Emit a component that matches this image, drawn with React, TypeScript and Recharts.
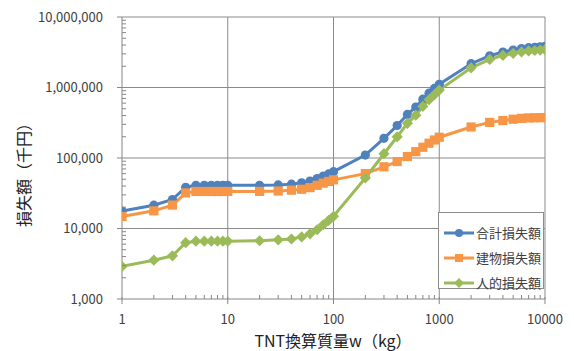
import React from 'react';
import { LineChart, Line, XAxis, YAxis, ReferenceLine } from 'recharts';

const weights = [1, 2, 3, 4, 5, 6, 7, 8, 9, 10, 20, 30, 40, 50, 60, 70, 80, 90, 100, 200, 300, 400, 500, 600, 700, 800, 900, 1000, 2000, 3000, 4000, 5000, 6000, 7000, 8000, 9000, 10000];
const totalLoss = [17700, 21400, 25800, 38500, 41000, 41000, 41000, 41000, 41000, 41000, 41000, 41500, 42500, 44500, 47000, 51000, 55500, 59500, 64000, 110000, 190000, 289000, 415000, 528000, 682000, 832000, 970000, 1110000, 2175000, 2820000, 3190000, 3405000, 3565000, 3670000, 3722000, 3774000, 3825000];
const buildingLoss = [14800, 17800, 21500, 32000, 33500, 33500, 33500, 33500, 33500, 33500, 33600, 34000, 35000, 36000, 38000, 41000, 44000, 46500, 49000, 60000, 75000, 89000, 105000, 123000, 142000, 162000, 180000, 197000, 275000, 320000, 340000, 355000, 365000, 370000, 372000, 374000, 375000];
const humanLoss = [2900, 3550, 4100, 6300, 6600, 6600, 6600, 6600, 6600, 6600, 6700, 6900, 7100, 7600, 8400, 9600, 11300, 13000, 14900, 52000, 115000, 200000, 310000, 405000, 540000, 670000, 790000, 920000, 1900000, 2500000, 2850000, 3050000, 3200000, 3300000, 3350000, 3400000, 3450000];

const seriesNames = ['合計損失額', '建物損失額', '人的損失額'];
const seriesKeys = ['total', 'building', 'human'];
const seriesColors = ['#4F81BD', '#F79646', '#9BBB59'];
const seriesShapes = ['circle', 'square', 'diamond'];

const xMajorTicks = [1, 10, 100, 1000, 10000];
const yMajorTicks = [1000, 10000, 100000, 1000000, 10000000];
const xAllTicks = [1, 2, 3, 4, 5, 6, 7, 8, 9, 10, 20, 30, 40, 50, 60, 70, 80, 90, 100, 200, 300, 400, 500, 600, 700, 800, 900, 1000, 2000, 3000, 4000, 5000, 6000, 7000, 8000, 9000, 10000];
const yAllTicks = [1000, 2000, 3000, 4000, 5000, 6000, 7000, 8000, 9000, 10000, 20000, 30000, 40000, 50000, 60000, 70000, 80000, 90000, 100000, 200000, 300000, 400000, 500000, 600000, 700000, 800000, 900000, 1000000, 2000000, 3000000, 4000000, 5000000, 6000000, 7000000, 8000000, 9000000, 10000000];

const xTitle = 'TNT換算質量w（kg）';
const yTitle = '損失額（千円）';

const data = weights.map((w, i) => ({ w, total: totalLoss[i], building: buildingLoss[i], human: humanLoss[i] }));

const FONT = '"Noto Sans CJK JP", "Noto Sans", sans-serif';
const AXIS = '#868686';
const GRID = '#8a8a8a';
const TEXT = '#404040';

const isMajor = (v: number, majors: number[]) => majors.indexOf(v) >= 0;

const XTick = (props: any) => {
  const { x, y, payload } = props;
  const v = payload.value;
  if (isMajor(v, xMajorTicks)) {
    return (
      <g>
        <line x1={x} x2={x} y1={y - 2} y2={y + 5} stroke={AXIS} />
        <text x={x} y={y + 25} textAnchor="middle" fontSize={13} fill={TEXT} fontFamily={FONT}>{String(v)}</text>
      </g>
    );
  }
  return <line x1={x} x2={x} y1={y} y2={y - 4} stroke={AXIS} />;
};

const YTick = (props: any) => {
  const { x, y, payload } = props;
  const v = payload.value;
  if (isMajor(v, yMajorTicks)) {
    return (
      <g>
        <line x1={x - 5} x2={x} y1={y} y2={y} stroke={AXIS} />
        <text x={x - 19} y={y + 4.5} textAnchor="end" fontSize={13} fill={TEXT} fontFamily={FONT}>{v.toLocaleString('en-US')}</text>
      </g>
    );
  }
  return <line x1={x} x2={x + 4} y1={y} y2={y} stroke={AXIS} />;
};

const makeDot = (shape: string, color: string) => (props: any) => {
  const { cx, cy, index } = props;
  if (cx == null || cy == null) return <g key={index} />;
  if (shape === 'circle') return <circle key={index} cx={cx} cy={cy} r={4.6} fill={color} />;
  if (shape === 'square') return <rect key={index} x={cx - 4.6} y={cy - 4.6} width={9.2} height={9.2} fill={color} />;
  const r = 5.6;
  return <polygon key={index} points={`${cx},${cy - r} ${cx + r},${cy} ${cx},${cy + r} ${cx - r},${cy}`} fill={color} />;
};

const LegendIcon = ({ shape, color }: { shape: string; color: string }) => (
  <svg width={32} height={12} style={{ display: 'block' }}>
    <line x1={1} x2={31} y1={6} y2={6} stroke={color} strokeWidth={3} />
    {shape === 'circle' && <circle cx={16} cy={6} r={4} fill={color} />}
    {shape === 'square' && <rect x={12} y={2} width={8} height={8} fill={color} />}
    {shape === 'diamond' && <polygon points="16,1 21,6 16,11 11,6" fill={color} />}
  </svg>
);

export default function App() {
  return (
    <div style={{ position: 'absolute', left: 0, top: 0, width: 574, height: 351, background: '#fff' }}>
      <LineChart width={574} height={351} data={data} margin={{ top: 17, right: 29, bottom: 0, left: 0 }}>
        {xMajorTicks.slice(1).map((v) => (
          <ReferenceLine key={'gx' + v} x={v} stroke={GRID} strokeWidth={1} />
        ))}
        {yMajorTicks.slice(1).map((v) => (
          <ReferenceLine key={'gy' + v} y={v} stroke={GRID} strokeWidth={1} />
        ))}
        <XAxis
          dataKey="w"
          type="number"
          scale="log"
          domain={[1, 10000]}
          ticks={xAllTicks}
          interval={0}
          tick={<XTick />}
          tickLine={false}
          tickSize={0}
          tickMargin={0}
          height={52}
          stroke={AXIS}
          allowDataOverflow
        />
        <YAxis
          type="number"
          scale="log"
          domain={[1000, 10000000]}
          ticks={yAllTicks}
          interval={0}
          tick={<YTick />}
          tickLine={false}
          tickSize={0}
          tickMargin={0}
          width={122}
          stroke={AXIS}
          allowDataOverflow
        />
        {seriesKeys.map((k, i) => (
          <Line
            key={k}
            dataKey={k}
            name={seriesNames[i]}
            stroke={seriesColors[i]}
            strokeWidth={3}
            dot={makeDot(seriesShapes[i], seriesColors[i])}
            activeDot={false}
            isAnimationActive={false}
          />
        ))}
      </LineChart>
      <svg width={574} height={351} style={{ position: 'absolute', left: 0, top: 0, pointerEvents: 'none' }}>
        <text x={333} y={347} textAnchor="middle" fontSize={16} fill="#222" fontFamily={FONT}>{xTitle}</text>
        <text transform="translate(30,171) rotate(-90)" textAnchor="middle" fontSize={16} fill="#222" fontFamily={FONT}>{yTitle}</text>
      </svg>
      <div
        style={{
          position: 'absolute',
          left: 438,
          top: 212,
          width: 106,
          height: 77,
          border: '1px solid #8c8c8c',
          background: '#fff',
          fontFamily: FONT,
          fontSize: 13,
          color: TEXT,
          boxSizing: 'border-box',
          paddingTop: 7,
        }}
      >
        {seriesNames.map((n, i) => (
          <div key={n} style={{ display: 'flex', alignItems: 'center', height: 25, paddingLeft: 4 }}>
            <LegendIcon shape={seriesShapes[i]} color={seriesColors[i]} />
            <span style={{ marginLeft: 1, lineHeight: '14px' }}>{n}</span>
          </div>
        ))}
      </div>
    </div>
  );
}
